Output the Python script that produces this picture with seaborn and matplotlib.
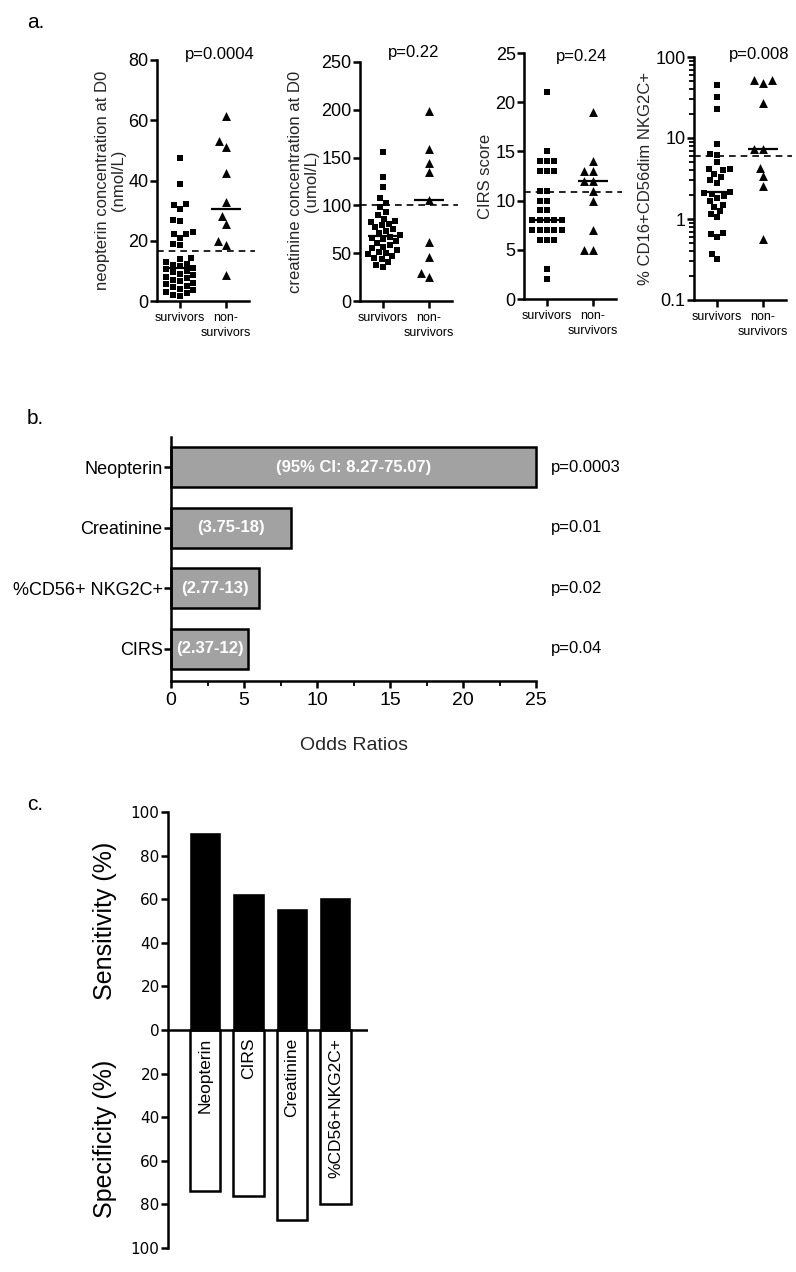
import numpy as np
import pandas as pd
import matplotlib
matplotlib.use("Agg")
import matplotlib.pyplot as plt
import seaborn as sns
from matplotlib import font_manager
from matplotlib.ticker import AutoMinorLocator, LogLocator, NullFormatter, FixedLocator

# ---- panel a: values per patient group ----
groups = ["survivors", "non-survivors"]
group_ticks = ["survivors", "non-\nsurvivors"]

neo_surv = [47.5, 39, 32.2, 31.8, 30.7, 26.8, 26.6, 22.8, 22.4, 22.2, 21, 19, 18.5,
            14.2, 14, 13, 12.4, 12, 11.5, 11, 10.5, 10, 9.5, 9, 8.5, 8, 7.5, 7, 6.5,
            6, 5.5, 5, 4.5, 4, 3.5, 3, 2.5, 2, 1.5]
neo_non = [61.5, 53.1, 51.1, 42.6, 32.8, 28.2, 25.5, 20, 18.7, 8.7]

crea_surv = [156, 130, 119, 108, 103, 98, 93, 90, 86, 84, 83, 81, 79, 77, 75, 73, 71,
             69, 67, 66, 65, 63, 61, 59, 57, 55, 53, 51, 50, 49, 47, 45, 44, 41, 38, 36]
crea_non = [198.6, 159, 144.6, 135, 106, 62, 45.6, 29.7, 24.7]

cirs_surv = [21, 15, 14, 14, 14, 13, 13, 13, 11, 11, 10, 10, 9, 9, 8, 8, 8, 8, 8,
             7, 7, 7, 7, 7, 6, 6, 6, 3, 2]
cirs_non = [19, 14, 13, 13, 12, 12, 11, 10, 7, 5, 5]

nk_surv = [45, 32, 22.6, 8.4, 6.4, 6.1, 5.0, 4.2, 4.1, 4.0, 3.6, 3.3, 3.0, 2.8, 2.15,
           2.1, 2.05, 1.95, 1.8, 1.65, 1.5, 1.4, 1.25, 1.15, 1.05, 0.68, 0.66, 0.6,
           0.37, 0.32]
nk_non = [52, 48, 52, 26.7, 7.4, 7.4, 4.3, 3.4, 2.56, 0.56]

cutoffs = [16.7, 100, 10.85, 6.0]
a_pvalues = ["p=0.0004", "p=0.22", "p=0.24", "p=0.008"]
a_ylabels = ["neopterin concentration at D0\n(nmol/L)",
             "creatinine concentration at D0\n(umol/L)",
             "CIRS score",
             "% CD16+CD56dim NKG2C+"]
a_ylims = [(0, 80), (0, 250), (0, 25), (0.1, 100)]
a_yticks = [[0, 20, 40, 60, 80], [0, 50, 100, 150, 200, 250],
            [0, 5, 10, 15, 20, 25], [0.1, 1, 10, 100]]

# ---- panel b: odds ratios ----
or_labels = ["Neopterin", "Creatinine", "%CD56+ NKG2C+", "CIRS"]
odds_ratio = [25, 8.2, 6.05, 5.3]
or_ci = ["(95% CI: 8.27-75.07)", "(3.75-18)", "(2.77-13)", "(2.37-12)"]
or_pvalues = ["p=0.0003", "p=0.01", "p=0.02", "p=0.04"]

# ---- panel c: sensitivity / specificity ----
c_labels = ["Neopterin", "CIRS", "Creatinine", "%CD56+NKG2C+"]
sensitivity = [91, 63, 56, 61]
specificity = [74, 76, 87, 80]


def has_font(name):
    try:
        font_manager.findfont(font_manager.FontProperties(family=name),
                              fallback_to_default=False)
        return True
    except Exception:
        return False


sns.set_style("ticks")
plt.rcParams["font.family"] = ["Liberation Sans", "DejaVu Sans"]
plt.rcParams.update({
    "axes.linewidth": 1.8,
    "xtick.major.width": 1.8, "ytick.major.width": 1.8,
    "xtick.minor.width": 1.3, "ytick.minor.width": 1.3,
    "xtick.major.size": 5, "ytick.major.size": 5,
    "xtick.minor.size": 3.5, "ytick.minor.size": 3.5,
    "xtick.direction": "out", "ytick.direction": "out",
    "xtick.color": "black", "ytick.color": "black",
    "axes.edgecolor": "black", "text.color": "black",
})

W, H = 796, 1272
fig = plt.figure(figsize=(W / 100, H / 100), dpi=100)


def add_ax(l, t, r, b):
    return fig.add_axes([l / W, 1 - b / H, (r - l) / W, (b - t) / H])


def px(x, y):
    return x / W, 1 - y / H


# ---------------- panel a ----------------
a_boxes = [(157, 60, 249, 301), (360, 62, 452, 301),
           (524, 53, 616, 299), (694, 57, 786, 300)]
a_ptext = [(220, 55), (414, 53), (582, 56), (759, 55)]
a_surv = [neo_surv, crea_surv, cirs_surv, nk_surv]
a_non = [neo_non, crea_non, cirs_non, nk_non]

for i in range(4):
    ax = add_ax(*a_boxes[i])
    if i == 3:
        ax.set_yscale("log")
    ax.set_ylim(*a_ylims[i])
    df_s = pd.DataFrame({"group": groups[0], "value": a_surv[i]})
    df_n = pd.DataFrame({"group": groups[1], "value": a_non[i]})
    sns.swarmplot(data=df_s, x="group", y="value", order=groups, marker="s",
                  size=5.0, color="black", linewidth=0, ax=ax, clip_on=False)
    sns.swarmplot(data=df_n, x="group", y="value", order=groups, marker="^",
                  size=6.4, color="black", linewidth=0, ax=ax, clip_on=False)
    for k, vals in enumerate([a_surv[i], a_non[i]]):
        ax.hlines(np.median(vals), k - 0.33, k + 0.33, color="black", lw=1.6, zorder=4)
    ax.axhline(cutoffs[i], color="black", lw=1.2, ls=(0, (4, 3)), zorder=1,
               xmax=1.06, clip_on=False)
    ax.set_xlim(-0.5, 1.5)
    ax.set_ylim(*a_ylims[i])
    ax.set_xticks([0, 1])
    ax.set_xticklabels(group_ticks, fontsize=9, linespacing=1.3)
    ax.tick_params(axis="x", pad=3)
    ax.set_yticks(a_yticks[i])
    if i == 3:
        ax.yaxis.set_minor_locator(LogLocator(base=10, subs=np.arange(2, 10)))
        ax.yaxis.set_minor_formatter(NullFormatter())
        ax.set_yticklabels(["0.1", "1", "10", "100"])
    ax.tick_params(axis="y", labelsize=13, pad=1)
    ax.set_xlabel("")
    ax.set_ylabel(a_ylabels[i], fontsize=12, labelpad=2, linespacing=1.05)
    sns.despine(ax=ax)
    fig.text(*px(*a_ptext[i]), a_pvalues[i], fontsize=12, ha="center", va="center")

fig.text(*px(27, 22), "a.", fontsize=15, ha="left", va="center")

# ---------------- panel b ----------------
axb = add_ax(171, 437, 536, 681)
sns.barplot(x=odds_ratio, y=or_labels, orient="h", color="#a2a2a2", saturation=1,
            edgecolor="black", linewidth=1.8, width=0.66, ax=axb)
for p in axb.patches:
    p.set_clip_on(False)
axb.set_xlim(0, 25)
axb.set_ylim(3.53, -0.5)
axb.set_xticks(range(0, 26, 5))
axb.xaxis.set_minor_locator(AutoMinorLocator(2))
axb.tick_params(axis="x", labelsize=14, pad=3)
axb.tick_params(axis="y", labelsize=13, pad=1)
for i in range(len(or_labels)):
    axb.text(odds_ratio[i] / 2, i, or_ci[i], ha="center", va="center",
             color="white", fontsize=12, fontweight="bold")
    axb.text(26.0, i, or_pvalues[i], ha="left", va="center", fontsize=12,
             clip_on=False)
axb.set_ylabel("")
axb.set_xlabel("Odds Ratios", fontsize=14, labelpad=20)
sns.despine(ax=axb)
fig.text(*px(27, 418), "b.", fontsize=15, ha="left", va="center")

# ---------------- panel c ----------------
axc = add_ax(168, 812, 368, 1248)
sns.barplot(x=c_labels, y=sensitivity, color="black", saturation=1, width=0.74,
            ax=axc)
sns.barplot(x=c_labels, y=[-v for v in specificity], color="white", saturation=1,
            edgecolor="black", linewidth=1.8, width=0.70, ax=axc)
axc.axhline(0, color="black", lw=1.8, zorder=5)
axc.set_xlim(-0.85, 3.75)
axc.set_ylim(-100, 100)
c_ticks = list(range(-100, 101, 20))
axc.yaxis.set_major_locator(FixedLocator(c_ticks))
axc.set_yticklabels([str(abs(t)) for t in c_ticks], fontsize=11,
                    fontfamily="DejaVu Sans")
axc.tick_params(axis="y", pad=1)
axc.set_xticks([])
axc.set_xlabel("")
axc.set_ylabel("")
sns.despine(ax=axc, bottom=True)

if has_font("Liberation Sans Narrow"):
    bar_font, bar_size = "Liberation Sans Narrow", 15
else:
    bar_font, bar_size = "Liberation Sans", 12.5
for i, lab in enumerate(c_labels):
    axc.text(i, -3.5, lab, rotation=90, ha="center", va="top",
             fontsize=bar_size, fontfamily=bar_font, zorder=6)

fig.text(*px(105, 921), "Sensitivity (%)", rotation=90, fontsize=18,
         ha="center", va="center")
fig.text(*px(105, 1139), "Specificity (%)", rotation=90, fontsize=18,
         ha="center", va="center")
fig.text(*px(27, 805), "c.", fontsize=15, ha="left", va="center")

fig.savefig("out.png", dpi=100)
